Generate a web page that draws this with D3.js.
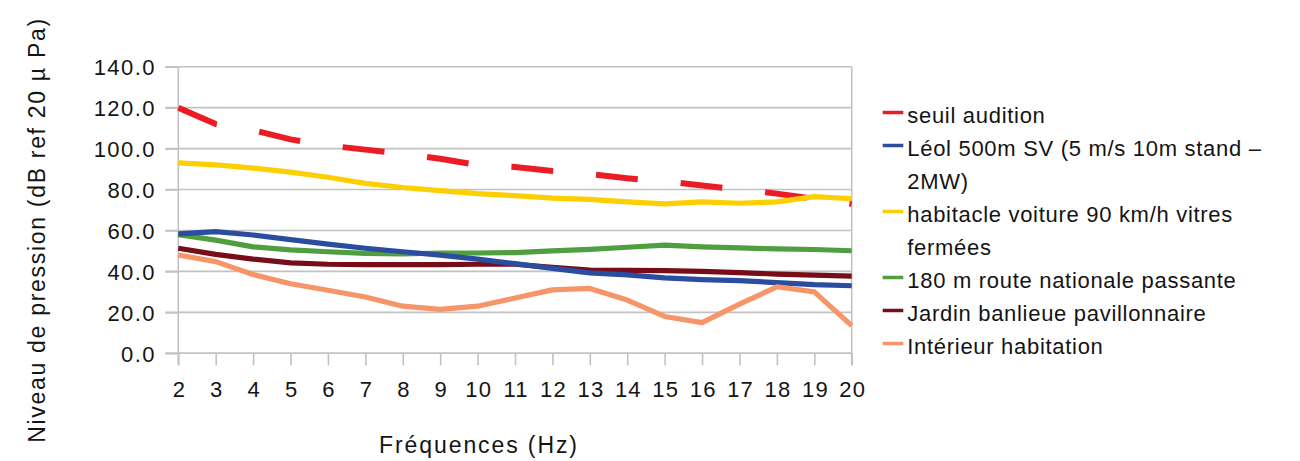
<!DOCTYPE html>
<html>
<head>
<meta charset="utf-8">
<script src="https://cdn.jsdelivr.net/npm/d3@7/dist/d3.min.js"></script>
<style>
  html, body { margin: 0; padding: 0; background: #fff; }
  svg { display: block; font-family: "Liberation Sans", Arial, sans-serif; }
</style>
</head>
<body>
<svg id="chart" width="1300" height="461"></svg>
<script>
// ---- data ----
const freqs = [2,3,4,5,6,7,8,9,10,11,12,13,14,15,16,17,18,19,20];
const yTicks = [0,20,40,60,80,100,120,140];

const seuilAudition = [120,112,109,104.5,101.5,99.5,97.5,95,92,91,89,87.5,85.5,84,82,80,78,75.5,73];
const leol500m      = [58.3,59.4,57.8,55.5,53.3,51.3,49.6,48,46,43.8,41.5,39.3,38.3,36.8,36,35.5,34.5,33.5,33];
const habitacle     = [93,92,90.5,88.5,86,83,81,79.5,78,77,75.8,75.2,74,73,74,73.3,74,76.5,75.5];
const routeNat      = [58,55.3,52,50.5,49.6,48.8,48.5,49,49,49.2,50,50.8,51.8,52.8,52,51.5,51,50.7,50.1];
const jardin        = [51.3,48.3,46,44.2,43.5,43.3,43.3,43.3,43.5,43.5,42,40.7,40.5,40.4,40,39.4,38.7,38.2,37.7];
const interieur     = [48,44.8,38.5,34,30.8,27.5,23,21.5,23,27,31,31.7,26,18,15,24,32.5,30,13.5];

const seriesNames = [
  ["seuil audition"],
  ["Léol 500m SV (5 m/s 10m stand –", "2MW)"],
  ["habitacle voiture 90 km/h vitres", "fermées"],
  ["180 m route nationale passante"],
  ["Jardin banlieue pavillonnaire"],
  ["Intérieur habitation"]
];
const seriesValues = [seuilAudition, leol500m, habitacle, routeNat, jardin, interieur];
const seriesColors = ["#ec1c24", "#2a4d9f", "#fdcf00", "#4f9e3f", "#770d18", "#f7956a"];
const drawOrder = [0, 2, 3, 4, 1, 5];

const xTitle = "Fréquences (Hz)";
const yTitle = "Niveau de pression (dB ref 20 µ Pa)";

// ---- layout ----
const svg = d3.select("#chart");
const L = 178.3, R = 851.7, T = 66.7, B = 353.3;
const x = d3.scaleLinear().domain([2, 20]).range([L, R]);
const y = d3.scaleLinear().domain([0, 140]).range([B, T]);
const gridColor = "#c2c2c2";
const textColor = "#141414";

// horizontal gridlines (with left tick stub)
svg.append("g").selectAll("line").data(yTicks).join("line")
  .attr("x1", L - 13).attr("x2", R)
  .attr("y1", d => y(d)).attr("y2", d => y(d))
  .attr("stroke", gridColor).attr("stroke-width", 1.6);

// right border
svg.append("line").attr("x1", R).attr("x2", R).attr("y1", T).attr("y2", B + 12)
  .attr("stroke", gridColor).attr("stroke-width", 1.6);

// y axis
const yAxis = svg.append("g").attr("transform", `translate(${L},0)`)
  .call(d3.axisLeft(y).tickValues(yTicks).tickFormat(d3.format(".1f")).tickSize(13).tickPadding(9.5));
yAxis.select(".domain").attr("d", `M0,${T}V${B + 12}`).attr("stroke", gridColor).attr("stroke-width", 1.6);
yAxis.selectAll(".tick line").attr("stroke", gridColor).attr("stroke-width", 1.6);
yAxis.selectAll(".tick text").attr("fill", textColor).style("font-size", "22px")
  .style("letter-spacing", "1.4px").attr("dy", "0.36em");

// x axis
const xAxis = svg.append("g").attr("transform", `translate(0,${B})`)
  .call(d3.axisBottom(x).tickValues(freqs).tickFormat(d3.format("d")).tickSize(12).tickPadding(16));
xAxis.select(".domain").attr("stroke", gridColor).attr("stroke-width", 1.6)
  .attr("d", `M${L - 13},0H${R}`);
xAxis.selectAll(".tick line").attr("stroke", gridColor).attr("stroke-width", 1.6);
xAxis.selectAll(".tick text").attr("fill", textColor).style("font-size", "22px")
  .style("letter-spacing", "1.2px").attr("dx", "0.6");

// axis titles
svg.append("text").attr("x", 479).attr("y", 453).attr("text-anchor", "middle")
  .attr("fill", textColor).style("font-size", "23px").style("letter-spacing", "1.9px")
  .text(xTitle);
svg.append("text").attr("transform", "translate(45,230) rotate(-90)").attr("text-anchor", "middle")
  .attr("fill", textColor).style("font-size", "23px").style("letter-spacing", "1.7px")
  .text(yTitle);

// lines
const line = d3.line().x((d, i) => x(freqs[i])).y(d => y(d));
const linesG = svg.append("g");
drawOrder.forEach(k => {
  const p = linesG.append("path").datum(seriesValues[k])
    .attr("d", line).attr("fill", "none")
    .attr("stroke", seriesColors[k])
    .attr("stroke-width", k === 0 ? 6 : 5.2)
    .attr("stroke-linejoin", "round");
  if (k === 0) p.attr("stroke-dasharray", "42,43");
});

// legend
const legend = svg.append("g");
let row = 0;
const rowStep = 33, firstRow = 115;
seriesNames.forEach((lines, k) => {
  const cy = firstRow + row * rowStep;
  legend.append("line").attr("x1", 882.7).attr("x2", 903.3)
    .attr("y1", cy - 2.5).attr("y2", cy - 2.5)
    .attr("stroke", seriesColors[k]).attr("stroke-width", 3.5);
  lines.forEach((t, j) => {
    legend.append("text").attr("x", 907.3).attr("y", cy + j * rowStep).attr("dy", "0.35em")
      .attr("fill", textColor).style("font-size", "22px").style("letter-spacing", "0.7px")
      .text(t);
  });
  row += lines.length;
});
</script>
</body>
</html>
